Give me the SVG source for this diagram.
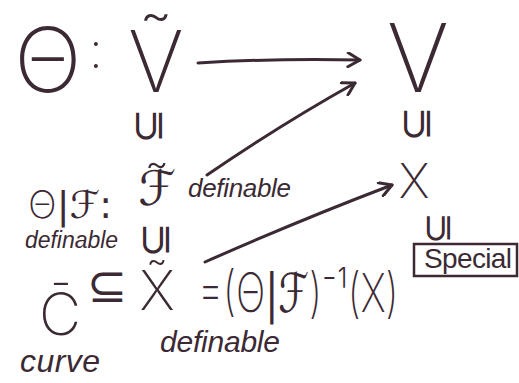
<svg xmlns="http://www.w3.org/2000/svg" width="519" height="383" viewBox="0 0 519 383">
<style>
text{font-family:"Liberation Sans","DejaVu Sans",sans-serif;fill:#3b2a33;}
.lt{font-family:"Inter","Open Sans","Noto Sans","DejaVu Sans",sans-serif;font-weight:200;}
.sy{font-family:"DejaVu Sans",sans-serif;font-weight:normal;}
.m{text-anchor:middle;}
.it{font-style:italic;}
.conn{fill:none;stroke:#3b2a33;stroke-width:3;stroke-linecap:round;}
</style>
<defs>
<marker id="ah" viewBox="0 0 16 16" refX="14" refY="8" markerWidth="16" markerHeight="16" markerUnits="userSpaceOnUse" orient="auto">
<path d="M2 1 L14 8 L2 15" fill="none" stroke="#3b2a33" stroke-width="3" stroke-linecap="round" stroke-linejoin="round"/>
</marker>
</defs>
<rect width="519" height="383" fill="#fff"/>
<g id="theta-map">
<text class="m lt" x="48" y="92" font-size="90">Θ</text>
<text class="m lt" x="96" y="68" font-size="50">:</text>
</g>
<g id="Vtilde"><text class="m lt" x="156" y="92" font-size="85">Ṽ</text></g>
<g id="V"><text class="m lt" x="418" y="92" font-size="95">V</text></g>
<g id="sub1"><text class="m sy" font-size="42" transform="translate(162,126) rotate(-90)">⊆</text></g>
<g id="sub2"><text class="m sy" font-size="42" transform="translate(430,124) rotate(-90)">⊆</text></g>
<g id="restriction">
<text class="lt" x="28" y="218" font-size="38">Θ<tspan class="sy">|ℱ:</tspan></text>
</g>
<g id="Ftilde">
<text class="m sy" x="157" y="205" font-size="48">ℱ<tspan class="lt" x="157" y="208" font-size="62">˜</tspan></text>
<text class="it" x="188" y="197" font-size="26" textLength="103">definable</text>
</g>
<g id="def-left"><text class="it" x="25" y="248" font-size="23" textLength="93">definable</text></g>
<g id="sub3"><text class="m sy" font-size="42" transform="translate(169,240) rotate(-90)">⊆</text></g>
<g id="X"><text class="m lt" x="414" y="198" font-size="48">X</text></g>
<g id="sub4"><text class="m sy" font-size="38" transform="translate(450,228) rotate(-90)">⊆</text></g>
<g id="special">
<rect x="414" y="244" width="103" height="32" fill="none" stroke="#3b2a33" stroke-width="2.5"/>
<text x="424" y="268" font-size="28" textLength="88">Special</text>
</g>
<g id="Cbar">
<text class="m lt" x="60" y="335" font-size="58">C̄</text>
<text class="it" x="20" y="372" font-size="32" textLength="80">curve</text>
</g>
<g id="subseteq"><text class="m sy" x="107" y="302" font-size="48">⊆</text></g>
<g id="Xtilde">
<text class="m lt" x="157" y="310" font-size="55">X̃</text>
<text class="lt" font-size="54" transform="translate(198,312) scale(0.72,1)">=(Θ<tspan class="sy">|ℱ</tspan>)⁻¹(X)</text>
<text class="it" x="160" y="352" font-size="30" textLength="120">definable</text>
</g>
<g id="connectors">
<path class="conn" d="M198 63 Q280 58 360 60" marker-end="url(#ah)"/>
<path class="conn" d="M207 175 Q280 125 355 83" marker-end="url(#ah)"/>
<path class="conn" d="M205 262 Q300 220 392 185" marker-end="url(#ah)"/>
</g>
</svg>
